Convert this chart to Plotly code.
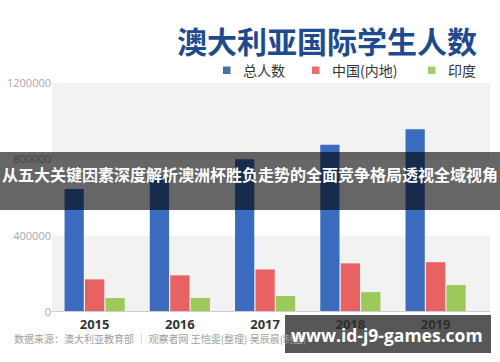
import plotly.graph_objects as go

years = ["2015", "2016", "2017", "2018", "2019"]
total = [645000, 713000, 800000, 876000, 958000]
china = [171000, 192000, 223000, 255000, 261000]
india = [73000, 74000, 84000, 104000, 141000]
series_names = ["总人数", "中国(内地)", "印度"]
series_colors = ["#3a6bbf", "#e86262", "#9cca5a"]
legend_colors = ["#4a6fa8", "#e56f6f", "#a3cc6a"]
y_ticks = [0, 400000, 800000, 1200000]

CJK = "Noto Sans CJK SC, Noto Sans, sans-serif"

fig = go.Figure()
for name, vals, col in zip(series_names, [total, china, india], series_colors):
    fig.add_trace(go.Bar(x=years, y=vals, name=name, marker=dict(color=col, line=dict(width=0)),
                         showlegend=False, hoverinfo="skip"))

L, R, T, B = 52, 10, 83, 50
W, H = 500, 362
pw, ph = W - L - R, H - T - B

def px(xp):
    return (xp - L) / pw

def py(yp):
    return (H - B - yp) / ph

shapes = []
# alternating background bands
shapes.append(dict(type="rect", xref="paper", yref="y", x0=0, x1=1,
                   y0=y_ticks[0], y1=y_ticks[1], fillcolor="#f2f2f2",
                   line=dict(width=0), layer="below"))
shapes.append(dict(type="rect", xref="paper", yref="y", x0=0, x1=1,
                   y0=y_ticks[2], y1=y_ticks[3], fillcolor="#f2f2f2",
                   line=dict(width=0), layer="below"))
# baseline
shapes.append(dict(type="line", xref="paper", yref="y", x0=0, x1=1, y0=0, y1=0,
                   line=dict(color="#cfcfcf", width=2), layer="above"))
# banner overlay
shapes.append(dict(type="rect", xref="paper", yref="paper", x0=px(0), x1=px(500),
                   y0=py(210), y1=py(152), fillcolor="rgba(0,0,0,0.6)",
                   line=dict(width=0), layer="above"))
# watermark box
shapes.append(dict(type="rect", xref="paper", yref="paper", x0=px(285), x1=px(491),
                   y0=py(353), y1=py(315), fillcolor="rgba(45,45,45,0.8)",
                   line=dict(width=0), layer="above"))

annotations = []
# title
annotations.append(dict(text="<b>澳大利亚国际学生人数</b>", xref="paper", yref="paper",
                        x=px(479), y=py(40), xanchor="right", yanchor="middle",
                        showarrow=False, font=dict(family=CJK, size=30, color="#1f4b8e")))
# legend (manual)
leg_sq_x = [223, 312, 428]
leg_txt_x = [241, 330, 446]
for sx, tx, name, col in zip(leg_sq_x, leg_txt_x, series_names, legend_colors):
    shapes.append(dict(type="rect", xref="paper", yref="paper", x0=px(sx), x1=px(sx + 7.5),
                       y0=py(74), y1=py(66.5), fillcolor=col, line=dict(width=0)))
    annotations.append(dict(text=name, xref="paper", yref="paper", x=px(tx), y=py(70),
                            xanchor="left", yanchor="middle", showarrow=False,
                            font=dict(family=CJK, size=14, color="#333333")))
# banner text
annotations.append(dict(text="<b>从五大关键因素深度解析澳洲杯胜负走势的全面竞争格局透视全域视角</b>",
                        xref="paper", yref="paper", x=px(250), y=py(174),
                        xanchor="center", yanchor="middle", showarrow=False,
                        font=dict(family=CJK, size=16, color="#ffffff")))
# source
annotations.append(dict(text="数据来源：澳大利亚教育部 ｜ 观察者网 王恺雯(整理) 吴辰晨(制图)",
                        xref="paper", yref="paper", x=px(12), y=py(338),
                        xanchor="left", yanchor="middle", showarrow=False,
                        font=dict(family=CJK, size=10, color="#a0a0a0")))
# watermark text
annotations.append(dict(text="<b>www.id-j9-games.com</b>", xref="paper", yref="paper",
                        x=px(387), y=py(335), xanchor="center", yanchor="middle",
                        showarrow=False,
                        font=dict(family="Open Sans, DejaVu Sans, sans-serif", size=17.5, color="#ffffff")))

fig.update_layout(
    width=W, height=H,
    margin=dict(l=L, r=R, t=T, b=B, pad=0, autoexpand=False),
    paper_bgcolor="white", plot_bgcolor="white",
    barmode="group", bargap=0.28, bargroupgap=0.06,
    shapes=shapes, annotations=annotations,
    xaxis=dict(type="category", range=[-0.5, 4.638], showgrid=False, zeroline=False,
               showline=False, ticks="", fixedrange=True, automargin=False,
               ticklabelstandoff=3,
               tickfont=dict(family="Noto Sans, Open Sans, sans-serif", size=13,
                             color="#333333", weight="bold")),
    yaxis=dict(range=[0, 1200000], tickvals=y_ticks, ticktext=[str(v) for v in y_ticks],
               showgrid=False, zeroline=False, showline=False, ticks="", automargin=False,
               fixedrange=True,
               tickfont=dict(family="Open Sans, sans-serif", size=11, color="#a8a8a8")),
    font=dict(family=CJK),
)

fig.write_html("out.html", config={"displayModeBar": False},
               post_script="document.body.style.margin='0';document.body.style.overflow='hidden';")
